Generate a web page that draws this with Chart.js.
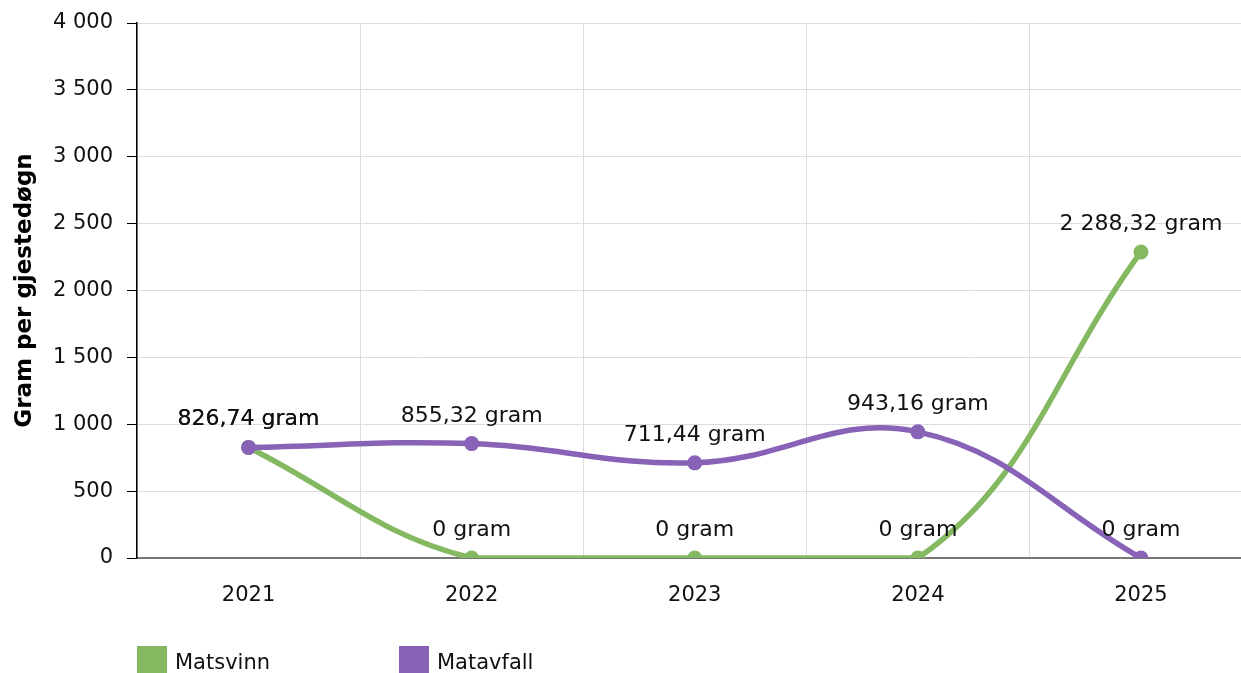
<!DOCTYPE html>
<html>
<head>
<meta charset="utf-8">
<script src="https://cdn.jsdelivr.net/npm/chart.js@4/dist/chart.umd.min.js"></script>
<style>
  html, body { margin: 0; padding: 0; background: #fff; overflow: hidden; }
  #wrap { position: relative; width: 1241px; height: 673px; overflow: hidden; }
  #c { position: absolute; left: 0; top: 0; }
  .lg { position: absolute; top: 646px; font-family: "DejaVu Sans", Verdana, sans-serif; font-size: 21px; color: #111; line-height: 27px; white-space: nowrap; }
  .lg span.box { position: absolute; left: 0; top: 0; width: 30px; height: 30px; }
  .lg span.txt { position: absolute; left: 38px; top: 3px; }
</style>
</head>
<body>
<div id="wrap">
  <canvas id="c" width="1260" height="673"></canvas>
  <div class="lg" id="lg0" style="left:137px"><span class="box"></span><span class="txt"></span></div>
  <div class="lg" id="lg1" style="left:399px"><span class="box"></span><span class="txt"></span></div>
</div>
<script>
const categories = ["2021", "2022", "2023", "2024", "2025"];
const seriesNames = ["Matsvinn", "Matavfall"];
const matsvinn = [826.74, 0, 0, 0, 2288.32];
const matavfall = [826.74, 855.32, 711.44, 943.16, 0];
const yTicks = [0, 500, 1000, 1500, 2000, 2500, 3000, 3500, 4000];
const colors = ["#84b962", "#8862b6"];
const unit = "gram";
const yTitle = "Gram per gjestedøgn";

function fmt(v) {
  const neg = v < 0;
  v = Math.abs(v);
  let s = Number.isInteger(v) ? String(v) : v.toFixed(2);
  let [ip, dp] = s.split(".");
  ip = ip.replace(/\B(?=(\d{3})+(?!\d))/g, " ");
  return (neg ? "-" : "") + ip + (dp ? "," + dp : "");
}

const FONT = "'DejaVu Sans', Verdana, sans-serif";

const labelPlugin = {
  id: "pointLabels",
  afterDatasetsDraw(chart) {
    const ctx = chart.ctx;
    ctx.save();
    ctx.font = "22px " + FONT;
    ctx.fillStyle = "#111";
    ctx.textAlign = "center";
    ctx.textBaseline = "alphabetic";
    chart.data.datasets.forEach((ds, di) => {
      const meta = chart.getDatasetMeta(di);
      meta.data.forEach((pt, i) => {
        ctx.fillText(fmt(ds.data[i]) + " " + unit, pt.x, pt.y - 22);
      });
    });
    ctx.restore();
  }
};

const chart = new Chart(document.getElementById("c"), {
  type: "line",
  data: {
    labels: categories,
    datasets: [
      { label: seriesNames[0], data: matsvinn, borderColor: colors[0], backgroundColor: colors[0],
        pointBackgroundColor: colors[0], pointBorderWidth: 0, pointRadius: 7.5, borderWidth: 5.5,
        tension: 0.4, order: 2 },
      { label: seriesNames[1], data: matavfall, borderColor: colors[1], backgroundColor: colors[1],
        pointBackgroundColor: colors[1], pointBorderWidth: 0, pointRadius: 7.5, borderWidth: 5.5,
        tension: 0.4, order: 1 }
    ]
  },
  options: {
    responsive: false,
    animation: false,
    layout: { padding: { top: 23, right: 0, bottom: 0, left: 0 } },
    plugins: { legend: { display: false }, tooltip: { enabled: false } },
    scales: {
      x: {
        offset: true,
        grid: { offset: true, color: "#dddddd", lineWidth: 1, drawTicks: false },
        border: { color: "#777777", width: 2 },
        ticks: { font: { family: FONT, size: 21 }, color: "#111", padding: 25 },
        afterFit(s) { s.height = 115; s.paddingLeft = 0; s.paddingRight = 0; }
      },
      y: {
        min: 0, max: 4000,
        afterBuildTicks(s) { s.ticks = yTicks.map(v => ({ value: v })); },
        grid: { color: "#dddddd", lineWidth: 1, tickLength: 10, tickColor: "#000" },
        border: { color: "#000", width: 1.5 },
        ticks: { font: { family: FONT, size: 21 }, color: "#111", padding: 14, callback: v => fmt(v) },
        title: { display: true, text: yTitle, font: { family: FONT, size: 23, weight: "bold" }, color: "#000", padding: { top: 11, bottom: 0 } },
        afterFit(s) { s.width = 137; s.paddingTop = 0; s.paddingBottom = 0; }
      }
    }
  },
  plugins: [labelPlugin]
});

["lg0", "lg1"].forEach((id, i) => {
  const el = document.getElementById(id);
  el.querySelector(".box").style.background = colors[i];
  el.querySelector(".txt").textContent = seriesNames[i];
});
</script>
</body>
</html>
